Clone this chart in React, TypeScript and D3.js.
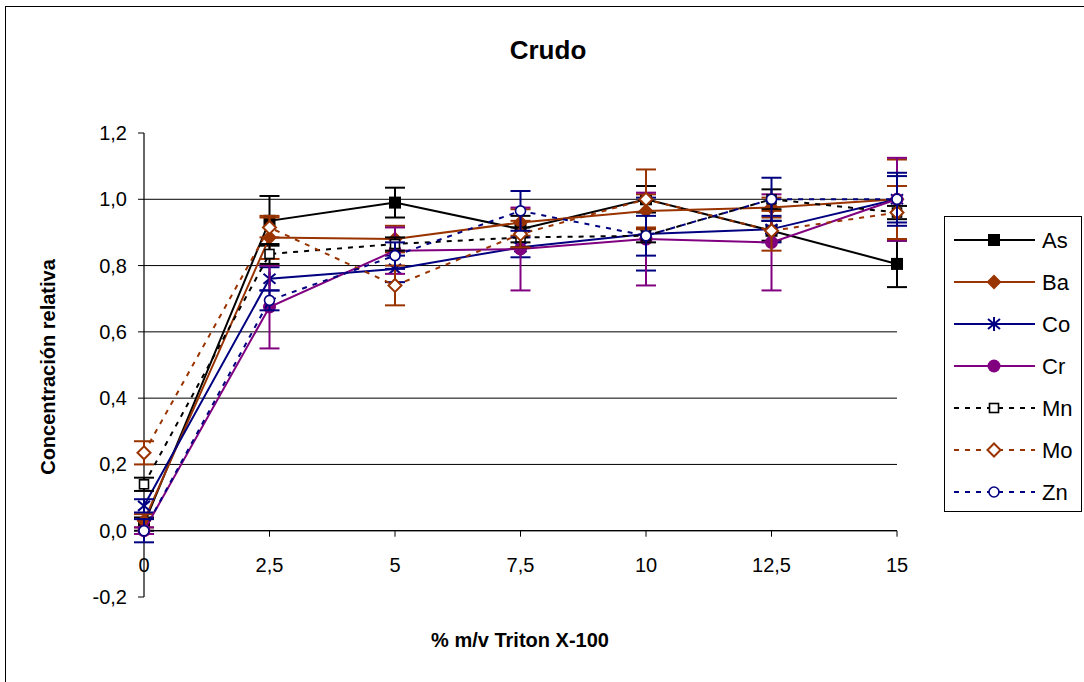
import React from "react";
import * as d3 from "d3";

const xValues = [0, 2.5, 5, 7.5, 10, 12.5, 15];
const xTickLabels = ["0", "2,5", "5", "7,5", "10", "12,5", "15"];
const yTicks = [-0.2, 0, 0.2, 0.4, 0.6, 0.8, 1.0, 1.2];
const gridTicks = [0, 0.2, 0.4, 0.6, 0.8, 1.0];

const seriesNames = ["As", "Ba", "Co", "Cr", "Mn", "Mo", "Zn"];
const asValues = [0.02, 0.935, 0.99, 0.91, 1.0, 0.905, 0.805];
const asErrors = [0.02, 0.075, 0.045, 0.04, 0.04, 0.03, 0.07];
const baValues = [0.03, 0.885, 0.88, 0.93, 0.965, 0.975, 1.0];
const baErrors = [0.02, 0.065, 0.04, 0.04, 0.05, 0.03, 0.12];
const coValues = [0.075, 0.76, 0.79, 0.855, 0.895, 0.91, 1.0];
const coErrors = [0.02, 0.035, 0.04, 0.03, 0.11, 0.04, 0.07];
const crValues = [0.0, 0.675, 0.845, 0.85, 0.88, 0.87, 1.0];
const crErrors = [0.01, 0.125, 0.07, 0.125, 0.14, 0.145, 0.125];
const mnValues = [0.14, 0.835, 0.865, 0.885, 0.89, 1.0, 0.96];
const mnErrors = [0.02, 0.03, 0.02, 0.03, 0.02, 0.03, 0.02];
const moValues = [0.235, 0.915, 0.74, 0.895, 1.0, 0.905, 0.96];
const moErrors = [0.035, 0.03, 0.06, 0.04, 0.09, 0.06, 0.08];
const znValues = [0.0, 0.695, 0.83, 0.965, 0.89, 1.0, 1.0];
const znErrors = [0.035, 0.03, 0.04, 0.06, 0.06, 0.065, 0.08];

type MarkerKind = "square" | "diamond" | "star" | "circle" | "openSquare" | "openDiamond" | "openCircle";

const seriesStyles: { color: string; dashed: boolean; marker: MarkerKind }[] = [
  { color: "#000000", dashed: false, marker: "square" },
  { color: "#993300", dashed: false, marker: "diamond" },
  { color: "#000080", dashed: false, marker: "star" },
  { color: "#800080", dashed: false, marker: "circle" },
  { color: "#000000", dashed: true, marker: "openSquare" },
  { color: "#993300", dashed: true, marker: "openDiamond" },
  { color: "#000080", dashed: true, marker: "openCircle" },
];

const seriesValues = [asValues, baValues, coValues, crValues, mnValues, moValues, znValues];
const seriesErrors = [asErrors, baErrors, coErrors, crErrors, mnErrors, moErrors, znErrors];

const FONT = "'Liberation Sans', Arial, sans-serif";

// Decimal comma and plain hyphen for negatives
const fmtTick = (t: number) => d3.format(".1f")(t).replace(".", ",").replace("\u2212", "-");

function Marker({ kind, x, y, color }: { kind: MarkerKind; x: number; y: number; color: string }) {
  switch (kind) {
    case "square":
      return <rect x={x - 6} y={y - 6} width={12} height={12} fill={color} />;
    case "diamond":
      return <path d={`M${x},${y - 7.5}L${x + 7.5},${y}L${x},${y + 7.5}L${x - 7.5},${y}Z`} fill={color} />;
    case "star":
      return (
        <g stroke={color} strokeWidth={2}>
          <line x1={x} y1={y - 7} x2={x} y2={y + 7} />
          <line x1={x - 6} y1={y - 5} x2={x + 6} y2={y + 5} />
          <line x1={x - 6} y1={y + 5} x2={x + 6} y2={y - 5} />
        </g>
      );
    case "circle":
      return <circle cx={x} cy={y} r={6.5} fill={color} />;
    case "openSquare":
      return <rect x={x - 4.5} y={y - 4.5} width={9} height={9} fill="white" stroke={color} strokeWidth={1.6} />;
    case "openDiamond":
      return (
        <path
          d={`M${x},${y - 6.5}L${x + 6.5},${y}L${x},${y + 6.5}L${x - 6.5},${y}Z`}
          fill="white"
          stroke={color}
          strokeWidth={2}
        />
      );
    case "openCircle":
      return <circle cx={x} cy={y} r={5} fill="white" stroke={color} strokeWidth={1.6} />;
  }
}

export default function App() {
  const width = 1084;
  const height = 682;
  const plotLeft = 144;
  const plotRight = 897;
  const plotTop = 133;
  const plotBottom = 597;

  const x = d3.scaleLinear().domain([0, 15]).range([plotLeft, plotRight]);
  const y = d3.scaleLinear().domain([-0.2, 1.2]).range([plotBottom, plotTop]);
  const line = d3
    .line<number>()
    .x((_, i) => x(xValues[i]))
    .y((d) => y(d));

  const legendX = 944;
  const legendY = 216;
  const legendW = 137;
  const legendH = 295;
  const rowGap = 42;

  return (
    <svg
      width={width}
      height={height}
      style={{ position: "absolute", left: 0, top: 0, background: "white" }}
      fontFamily={FONT}
    >
      <rect x={0} y={0} width={width} height={height} fill="white" />
      {/* chart frame */}
      <rect x={5.5} y={6.5} width={1090} height={700} fill="none" stroke="#000" strokeWidth={1} />

      <text x={548} y={59} textAnchor="middle" fontSize={26} fontWeight="bold">
        Crudo
      </text>

      {/* gridlines */}
      {gridTicks.map((t) => (
        <line key={t} x1={plotLeft} x2={plotRight} y1={y(t)} y2={y(t)} stroke="#000" strokeWidth={1} />
      ))}

      {/* y axis */}
      <line x1={plotLeft} x2={plotLeft} y1={plotTop} y2={plotBottom} stroke="#000" strokeWidth={1.2} />
      {yTicks.map((t) => (
        <g key={t}>
          <line x1={plotLeft - 6} x2={plotLeft} y1={y(t)} y2={y(t)} stroke="#000" strokeWidth={1} />
          <text x={plotLeft - 17} y={y(t)} dy="0.35em" textAnchor="end" fontSize={20}>
            {fmtTick(t)}
          </text>
        </g>
      ))}

      {/* x axis crossing at zero */}
      <line x1={plotLeft} x2={plotRight} y1={y(0)} y2={y(0)} stroke="#000" strokeWidth={1.2} />
      {xValues.map((v, i) => (
        <g key={v}>
          <line x1={x(v)} x2={x(v)} y1={y(0)} y2={y(0) + 6} stroke="#000" strokeWidth={1} />
          <text x={x(v)} y={y(0) + 41} textAnchor="middle" fontSize={20}>
            {xTickLabels[i]}
          </text>
        </g>
      ))}

      <text
        transform={`translate(55,${(plotTop + plotBottom) / 2 + 2}) rotate(-90)`}
        textAnchor="middle"
        fontSize={20}
        fontWeight="bold"
      >
        Concentración relativa
      </text>
      <text x={520} y={647} textAnchor="middle" fontSize={20} fontWeight="bold">
        % m/v Triton X-100
      </text>

      {/* series */}
      {seriesValues.map((vals, si) => {
        const st = seriesStyles[si];
        const errs = seriesErrors[si];
        return (
          <g key={seriesNames[si]}>
            <path
              d={line(vals) || ""}
              fill="none"
              stroke={st.color}
              strokeWidth={2}
              strokeDasharray={st.dashed ? "5,6" : undefined}
            />
            {vals.map((v, i) => {
              const cx = x(xValues[i]);
              const top = y(v + errs[i]);
              const bot = y(v - errs[i]);
              return (
                <g key={i} stroke={st.color} strokeWidth={2}>
                  <line x1={cx} x2={cx} y1={top} y2={bot} />
                  <line x1={cx - 10} x2={cx + 10} y1={top} y2={top} />
                  <line x1={cx - 10} x2={cx + 10} y1={bot} y2={bot} />
                </g>
              );
            })}
            {vals.map((v, i) => (
              <Marker key={i} kind={st.marker} x={x(xValues[i])} y={y(v)} color={st.color} />
            ))}
          </g>
        );
      })}

      {/* legend */}
      <rect x={legendX + 0.5} y={legendY + 0.5} width={legendW} height={legendH} fill="white" stroke="#000" strokeWidth={1} />
      {seriesNames.map((name, i) => {
        const st = seriesStyles[i];
        const ry = legendY + 24 + i * rowGap;
        return (
          <g key={name}>
            <line
              x1={954}
              x2={1035}
              y1={ry}
              y2={ry}
              stroke={st.color}
              strokeWidth={2}
              strokeDasharray={st.dashed ? "5,6" : undefined}
            />
            <Marker kind={st.marker} x={994} y={ry} color={st.color} />
            <text x={1042} y={ry} dy="0.35em" fontSize={22}>
              {name}
            </text>
          </g>
        );
      })}
    </svg>
  );
}
